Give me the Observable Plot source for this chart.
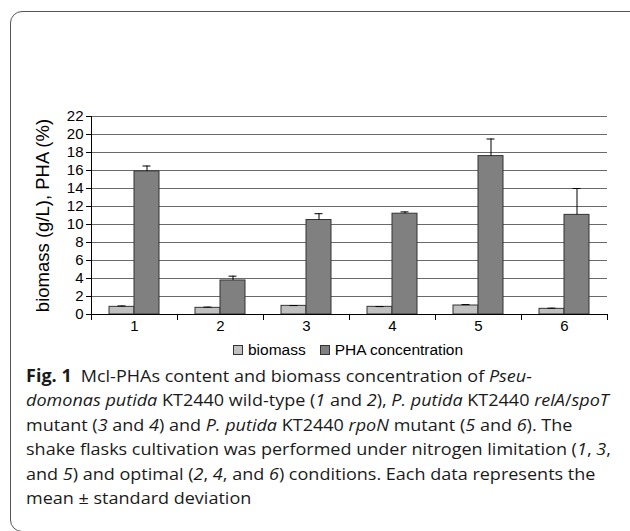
<!DOCTYPE html>
<html>
<head>
<meta charset="utf-8">
<script src="https://cdn.jsdelivr.net/npm/d3@7"></script>
<script src="https://cdn.jsdelivr.net/npm/@observablehq/plot@0.6"></script>
<style>
  html, body { margin: 0; padding: 0; background: #fff; }
  body { width: 630px; height: 531px; overflow: hidden; position: relative; }
  #frame { position: absolute; left: 10px; top: 11px; width: 640px; height: 521px;
           border: 1.5px solid #555; border-radius: 12px; box-sizing: border-box; }
  #chart { position: absolute; left: 0; top: 0; }
  #chart g[aria-label="y-axis label"] text { font-size: 18.5px; }
  #legend { position: absolute; left: 233px; top: 341px; display: flex; align-items: center;
            font-family: "Liberation Sans", Arial, sans-serif; font-size: 15.5px; color: #000; }
  #legend .item { display: flex; align-items: center; margin-right: 14px; }
  #legend .sw { width: 8px; height: 8px; border: 1px solid #333; margin-right: 5px; }
  #caption { position: absolute; left: 26px; top: 364px; font-family: "Open Sans", sans-serif;
             font-size: 17px; line-height: 24.4px; color: #1a1a1a; white-space: nowrap;
             transform: scaleX(1.06); transform-origin: 0 0; }
</style>
</head>
<body>
<div id="frame"></div>
<div id="chart"></div>
<div id="legend"></div>
<div id="caption">
<b>Fig. 1</b>&ensp;Mcl-PHAs content and biomass concentration of <i>Pseu-</i><br>
<i>domonas putida</i> KT2440 wild-type (<i>1</i> and <i>2</i>), <i>P. putida</i> KT2440 <i>relA</i>/<i>spoT</i><br>
mutant (<i>3</i> and <i>4</i>) and <i>P. putida</i> KT2440 <i>rpoN</i> mutant (<i>5</i> and <i>6</i>). The<br>
shake flasks cultivation was performed under nitrogen limitation (<i>1</i>, <i>3</i>,<br>
and <i>5</i>) and optimal (<i>2</i>, <i>4</i>, and <i>6</i>) conditions. Each data represents the<br>
mean ± standard deviation
</div>
<script>
const categories = ["1", "2", "3", "4", "5", "6"];
const series = ["biomass", "PHA concentration"];
const biomass = [0.85, 0.74, 0.96, 0.85, 1.0, 0.63];
const biomassErr = [0.1, 0.08, 0.03, 0.03, 0.1, 0.07];
const pha = [15.9, 3.78, 10.5, 11.2, 17.6, 11.07];
const phaErr = [0.6, 0.48, 0.7, 0.2, 1.9, 2.93];
const yTicks = [0, 2, 4, 6, 8, 10, 12, 14, 16, 18, 20, 22];
const colors = ["#c0c0c0", "#808080"];

const rows = [];
categories.forEach((c, i) => {
  rows.push({cat: c, series: series[0], value: biomass[i], err: biomassErr[i]});
  rows.push({cat: c, series: series[1], value: pha[i], err: phaErr[i]});
});

const chart = Plot.plot({
  width: 630,
  height: 338,
  marginLeft: 90,
  marginRight: 23,
  marginTop: 116,
  marginBottom: 24,
  style: {fontFamily: "'Liberation Sans', Arial, sans-serif", fontSize: "15px", color: "#000", background: "transparent"},
  fx: {domain: categories, padding: 0, label: null, axis: null},
  x: {domain: series, paddingInner: 0, paddingOuter: 0.72, axis: null},
  y: {domain: [0, 22], axis: null},
  color: {domain: series, range: colors},
  marks: [
    Plot.gridY(yTicks, {stroke: "#6a6a6a", strokeOpacity: 1}),
    Plot.barY(rows, {fx: "cat", x: "series", y: "value", fill: "series", stroke: "#333", strokeWidth: 1}),
    Plot.ruleX(rows, {fx: "cat", x: "series", y1: "value", y2: d => d.value + d.err, stroke: "#000"}),
    Plot.tickY(rows, {fx: "cat", x: "series", y: d => d.value + d.err, stroke: "#000", insetLeft: 8.5, insetRight: 8.5}),
    Plot.ruleY([0], {stroke: "#000"}),
    Plot.frame({anchor: "left", facetAnchor: "left", stroke: "#000"}),
    Plot.frame({anchor: "left", stroke: "#000", insetTop: 198, insetBottom: -5}),
    Plot.frame({anchor: "right", facetAnchor: "right", stroke: "#000", insetTop: 198, insetBottom: -5}),
    Plot.axisY(yTicks, {tickSize: 5, tickPadding: 3, label: "biomass (g/L), PHA (%)", labelAnchor: "center", labelArrow: "none", labelOffset: 56}),
    Plot.axisFx({anchor: "bottom", tickSize: 0, tickPadding: 6, label: null})
  ]
});
document.getElementById("chart").appendChild(chart);

const legend = document.getElementById("legend");
series.forEach((s, i) => {
  const item = document.createElement("div");
  item.className = "item";
  const sw = document.createElement("span");
  sw.className = "sw";
  sw.style.background = colors[i];
  const t = document.createElement("span");
  t.textContent = s;
  item.appendChild(sw);
  item.appendChild(t);
  legend.appendChild(item);
});
</script>
</body>
</html>
